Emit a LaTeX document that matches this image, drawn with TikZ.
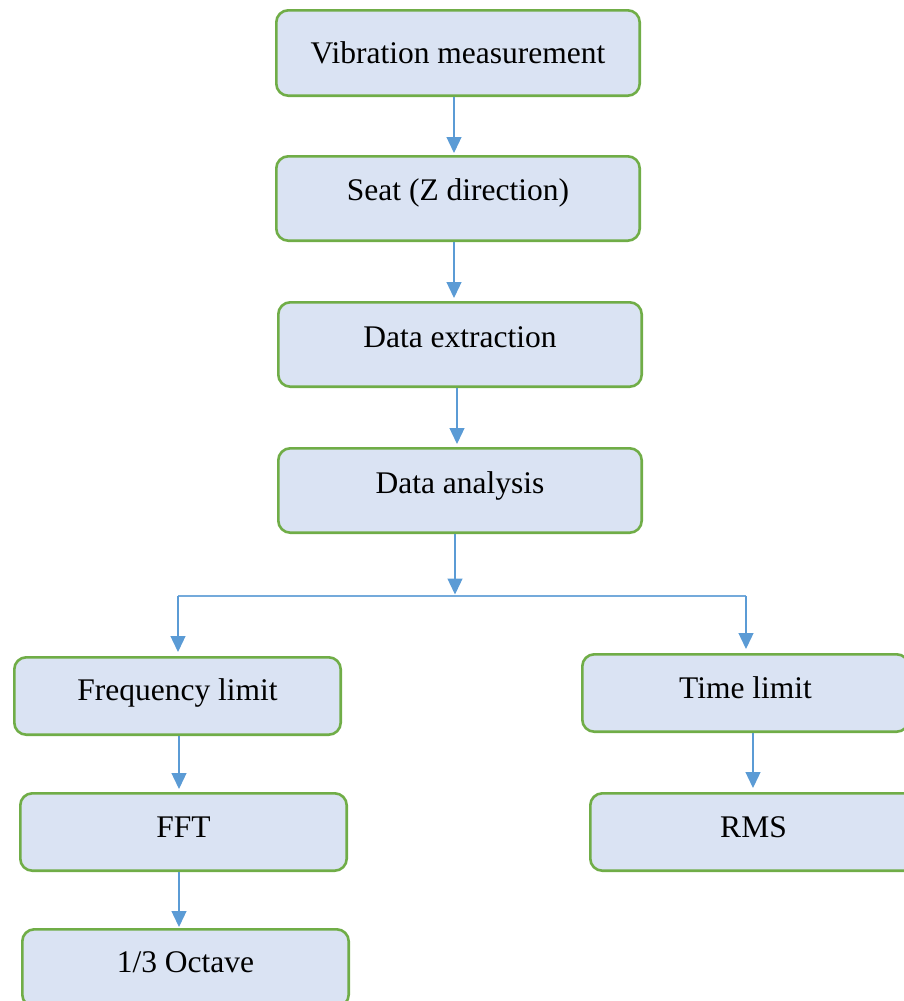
\documentclass[tikz,border=0pt]{standalone}
\usepackage{fontspec}
\setmainfont{Liberation Serif}
\usetikzlibrary{arrows.meta}
\definecolor{boxgreen}{HTML}{70AD47}
\definecolor{boxfill}{HTML}{DAE3F3}
\definecolor{linkblue}{HTML}{5B9BD5}
\newcommand\boxtext[2]{\raisebox{#1}[0pt][0pt]{#2}}
\begin{document}
\begin{tikzpicture}[x=1pt,y=-1pt,
  flowbox/.style={draw=boxgreen, fill=boxfill, line width=2.6pt, rounded corners=12pt,
    inner sep=0pt, font=\fontsize{31.5}{36}\selectfont},
  widebox/.style={flowbox, minimum width=363.4pt, minimum height=84.4pt},
  lowbox/.style={flowbox, minimum width=326.4pt, minimum height=77.4pt},
  link/.style={draw=linkblue, line width=1.3pt, -{Triangle[width=15pt,length=16pt]}},
  busline/.style={draw=linkblue!85, line width=1.3pt}]
\useasboundingbox (0,0) rectangle (904,1001);
\clip (0,0) rectangle (904,1001);

\node[widebox, minimum height=85.4pt] (vib) at (458,53) {\boxtext{-10pt}{Vibration measurement}};
\node[widebox] (seat) at (458,198.5) {\boxtext{-2pt}{Seat (Z direction)}};
\node[widebox] (ext) at (460,344.5) {\boxtext{-2.5pt}{Data extraction}};
\node[widebox] (ana) at (460,490.5) {\boxtext{-2.5pt}{Data analysis}};

\node[lowbox] (freq) at (177.5,696) {\boxtext{-4pt}{Frequency limit}};
\node[lowbox] (time) at (745.5,693) {\boxtext{-5.3pt}{Time limit}};
\node[lowbox] (fft) at (183.5,832) {\boxtext{-5.3pt}{FFT}};
\node[lowbox] (rms) at (753.5,832) {\boxtext{-5.3pt}{RMS}};
\node[lowbox] (oct) at (185.5,968) {\boxtext{-4.7pt}{1/3 Octave}};

\coordinate (busL) at (178,596);
\coordinate (busM) at (455,596);
\coordinate (busR) at (746,596);

\draw[link, shorten >=2pt] ([xshift=-4pt]vib.south) -- ([xshift=-4pt]seat.north);
\draw[link, shorten >=3pt] ([xshift=-4pt]seat.south) -- ([xshift=-4pt]seat.south |- ext.north);
\draw[link, shorten >=3pt] ([xshift=-3pt]ext.south) -- ([xshift=-3pt]ana.north);
\draw[link, shorten >=1.5pt] (ana.south -| busM) -- (busM);
\draw[busline] (busL) -- (busR);
\draw[link, shorten >=4pt] (busL) -- (busL |- freq.north);
\draw[link, shorten >=4pt] (busR) -- (busR |- time.north);
\draw[link, shorten >=3pt] ([xshift=1.5pt]freq.south) -- ([xshift=1.5pt]freq.south |- fft.north);
\draw[link, shorten >=1pt] ([xshift=-4.5pt]fft.south) -- ([xshift=-4.5pt]fft.south |- oct.north);
\draw[link, shorten >=4pt] ([xshift=7.5pt]time.south) -- ([xshift=7.5pt]time.south |- rms.north);
\end{tikzpicture}
\end{document}
